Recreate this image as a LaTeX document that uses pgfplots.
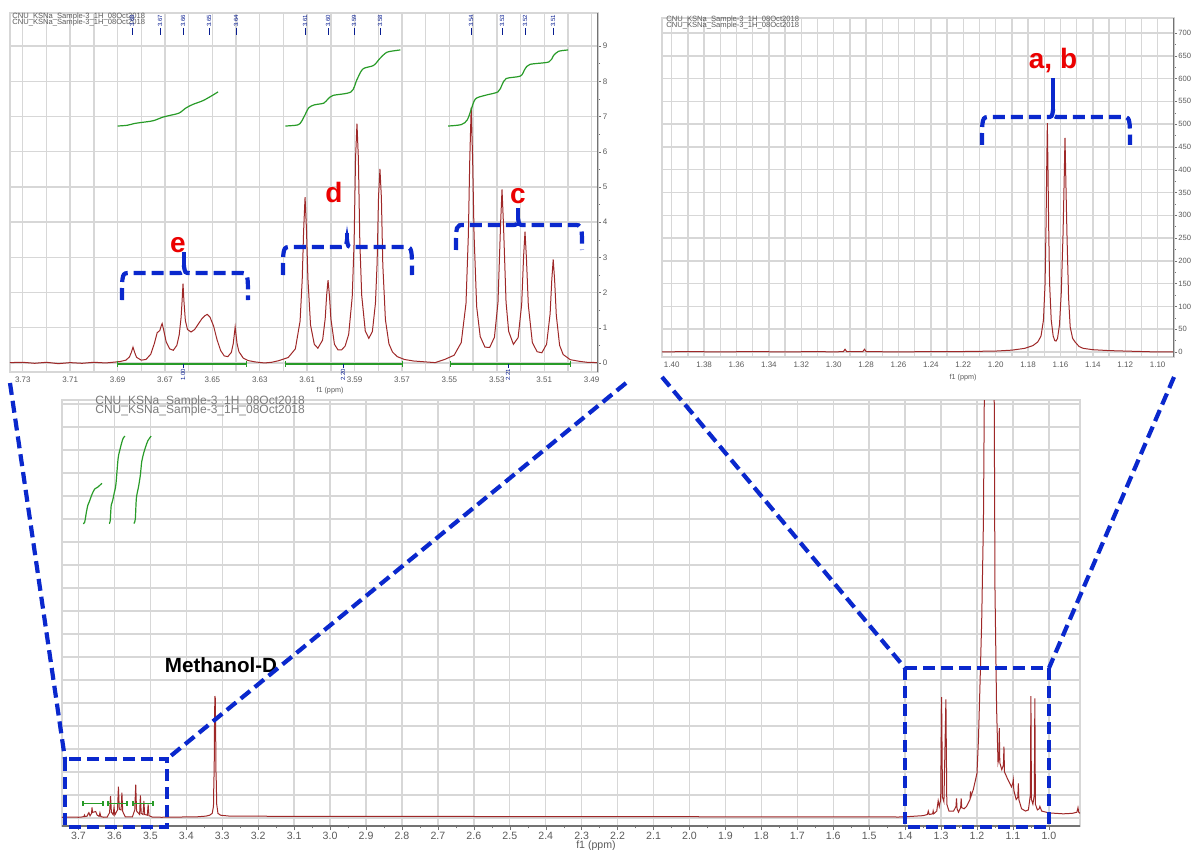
\documentclass[border=0pt]{standalone}
\usepackage{pgfplots}
\pgfplotsset{compat=1.18}
\usepackage{fontspec}
\setmainfont{Liberation Sans}
\definecolor{spec}{RGB}{158,40,40}
\definecolor{bl}{RGB}{10,40,205}
\definecolor{integ}{RGB}{40,155,40}
\definecolor{redl}{RGB}{235,0,0}
\definecolor{gridc}{RGB}{215,215,215}
\definecolor{labc}{RGB}{90,90,90}
\definecolor{axd}{RGB}{115,115,115}
\tikzset{dsh/.style={bl, line width=2.1pt, dash pattern=on 6pt off 3pt}}
\newcommand{\brk}[6]{%
 \draw[dsh] (#1,#5) .. controls (#1,#4) .. (#1+8,#4) -- (#2-6,#4) .. controls (#2-1,#4) .. (#2,#4-7) .. controls (#2+1,#4) .. (#2+6,#4) -- (#3-8,#4) .. controls (#3,#4) .. (#3,#5);
 \draw[bl, line width=2.2pt] (#2,#4-6) -- (#2,#6);}
\pgfplotsset{nmr/.style={scale only axis, x dir=reverse,
  /pgf/number format/assume math mode=true,
  axis line style={gridc, line width=0.6pt},
  grid style={gridc, line width=0.7pt}, minor grid style={gridc, line width=0.7pt},
  xmajorgrids=true, ymajorgrids=true,
  tick label style={text=labc}, tick style={axd}, tick align=outside,
  clip=true}}
\begin{document}
\begin{tikzpicture}
\path[use as bounding box] (0,0) rectangle (596.5pt,-425pt);

% ---------- top-left inset ----------
\begin{axis}[nmr, at={(5pt,-6.5pt)}, anchor=north west, width=294pt, height=179.5pt,
  xmin=3.4873, xmax=3.7354, ymin=-0.256, ymax=9.94,
  xtick={3.49,3.51,3.53,3.55,3.57,3.59,3.61,3.63,3.65,3.67,3.69,3.71,3.73},
  minor xtick={3.50,3.52,3.54,3.56,3.58,3.60,3.62,3.64,3.66,3.68,3.70,3.72},
  xminorgrids=true, x tick style={draw=none},
  xticklabel style={font=\fontsize{4}{4}\selectfont, inner sep=0.8pt, /pgf/number format/fixed, /pgf/number format/precision=2, /pgf/number format/fixed zerofill},
  ytick={0,1,2,3,4,5,6,7,8,9}, minor y tick num=1, ytick pos=right, yticklabel pos=right,
  yticklabel style={font=\fontsize{4}{4}\selectfont, inner sep=0.6pt},
  major tick length=1.6pt, minor tick length=1pt]
\addplot[spec, line width=0.5pt] coordinates {
(3.7354,0.01)(3.730,0.02)(3.725,-0.01)(3.720,0.02)(3.715,-0.02)(3.710,0.01)(3.705,-0.01)(3.700,0.02)(3.695,0.0)(3.692,0.02)
(3.689,0.04)(3.6865,0.08)(3.685,0.17)(3.6842,0.3)(3.6835,0.45)(3.6828,0.3)(3.682,0.16)(3.680,0.08)(3.678,0.1)(3.676,0.25)(3.6745,0.55)(3.6733,0.86)(3.6722,0.92)(3.6716,1.05)(3.6712,1.12)(3.6706,0.95)(3.6695,0.6)(3.668,0.4)(3.6665,0.36)(3.665,0.5)(3.664,0.8)(3.6632,1.3)(3.6628,1.75)(3.6624,2.25)(3.662,1.75)(3.6614,1.2)(3.6605,0.95)(3.659,0.88)(3.6575,0.95)(3.656,1.1)(3.6545,1.25)(3.6532,1.34)(3.6522,1.38)(3.651,1.3)(3.6495,1.05)(3.648,0.65)(3.6465,0.35)(3.645,0.2)(3.6435,0.18)(3.642,0.3)(3.6412,0.55)(3.6404,1.02)(3.6396,0.55)(3.6388,0.32)(3.637,0.14)(3.635,0.07)(3.632,0.03)(3.628,0.0)(3.625,0.02)
(3.622,0.065)(3.618,0.156)(3.615,0.40)(3.613,1.19)(3.6121,2.37)(3.6115,3.77)(3.6109,4.71)(3.6103,3.78)(3.6097,2.4)(3.6086,1.08)(3.607,0.53)(3.6055,0.42)(3.6035,0.65)(3.6024,1.26)(3.6018,1.92)(3.6012,2.35)(3.6006,1.9)(3.600,1.25)(3.5985,0.53)(3.597,0.37)(3.5955,0.37)(3.594,0.48)(3.5925,0.81)(3.591,1.88)(3.5902,3.45)(3.5896,5.81)(3.589,6.8)(3.5884,5.8)(3.5878,3.45)(3.587,1.92)(3.5855,0.91)(3.584,0.7)(3.5825,0.89)(3.5812,1.7)(3.5805,2.84)(3.5799,4.72)(3.5793,5.51)(3.5787,4.7)(3.5781,2.79)(3.577,1.23)(3.5755,0.54)(3.574,0.31)(3.572,0.18)(3.569,0.1)(3.565,0.055)(3.560,0.03)(3.556,0.01)
(3.552,0.10)(3.548,0.22)(3.545,0.58)(3.543,1.69)(3.542,3.64)(3.5414,5.8)(3.5408,7.25)(3.5402,5.8)(3.5396,3.65)(3.5385,1.6)(3.537,0.75)(3.535,0.45)(3.533,0.44)(3.531,0.73)(3.5295,1.72)(3.5284,3.96)(3.5278,4.93)(3.5272,3.96)(3.5261,1.73)(3.525,0.90)(3.523,0.53)(3.521,0.72)(3.5195,1.67)(3.5187,3.02)(3.5181,3.73)(3.5175,2.98)(3.5167,1.64)(3.515,0.58)(3.513,0.32)(3.511,0.29)(3.509,0.53)(3.5075,1.4)(3.5068,2.36)(3.5062,2.94)(3.5056,2.35)(3.5049,1.36)(3.5035,0.5)(3.502,0.24)(3.499,0.093)(3.495,0.045)(3.492,0.02)(3.4873,0.01)};
% integration curves
\addplot[integ, line width=0.6pt, smooth] coordinates {(3.690,6.73)(3.686,6.75)(3.683,6.80)(3.680,6.83)(3.675,6.88)(3.671,6.98)(3.668,7.03)(3.664,7.10)(3.661,7.25)(3.658,7.35)(3.654,7.45)(3.650,7.60)(3.6476,7.70)};
\addplot[integ, line width=0.6pt, smooth] coordinates {(3.6192,6.73)(3.614,6.76)(3.6125,6.85)(3.6109,7.05)(3.6093,7.25)(3.607,7.33)(3.603,7.38)(3.6012,7.5)(3.599,7.6)(3.5915,7.7)(3.589,8.05)(3.5865,8.35)(3.582,8.45)(3.5793,8.65)(3.5765,8.82)(3.573,8.87)(3.5707,8.89)};
\addplot[integ, line width=0.6pt, smooth] coordinates {(3.5505,6.73)(3.545,6.77)(3.5425,6.9)(3.5408,7.2)(3.539,7.5)(3.535,7.6)(3.5295,7.7)(3.5278,7.9)(3.526,8.08)(3.520,8.15)(3.5181,8.35)(3.516,8.48)(3.508,8.55)(3.5062,8.72)(3.504,8.85)(3.4999,8.89)};
\addplot[integ, line width=1pt, mark=|, mark size=1.3pt, mark options={solid, line width=0.6pt}] coordinates {(3.6899,-0.03)(3.6357,-0.03)};
\addplot[integ, line width=1pt, mark=|, mark size=1.3pt, mark options={solid, line width=0.6pt}] coordinates {(3.6192,-0.03)(3.5699,-0.03)};
\addplot[integ, line width=1pt, mark=|, mark size=1.3pt, mark options={solid, line width=0.6pt}] coordinates {(3.5496,-0.03)(3.4990,-0.03)};
\draw[axd, line width=0.9pt] (rel axis cs:1,0) -- (rel axis cs:1,1);
\end{axis}

% ---------- top-right inset ----------
\begin{axis}[nmr, at={(331pt,-9pt)}, anchor=north west, width=256pt, height=169.5pt,
  xmin=1.0899, xmax=1.406, ymin=-11, ymax=733,
  xtick={1.10,1.12,1.14,1.16,1.18,1.20,1.22,1.24,1.26,1.28,1.30,1.32,1.34,1.36,1.38,1.40},
  minor xtick={1.09,1.11,1.13,1.15,1.17,1.19,1.21,1.23,1.25,1.27,1.29,1.31,1.33,1.35,1.37,1.39},
  xminorgrids=true, x tick style={draw=none},
  xticklabel style={font=\fontsize{4}{4}\selectfont, inner sep=0.8pt, /pgf/number format/fixed, /pgf/number format/precision=2, /pgf/number format/fixed zerofill},
  ytick={0,50,100,150,200,250,300,350,400,450,500,550,600,650,700}, minor y tick num=1, ytick pos=right, yticklabel pos=right,
  yticklabel style={font=\fontsize{3.8}{4}\selectfont, inner sep=0.5pt},
  major tick length=1.5pt, minor tick length=0.9pt]
\addplot[spec, line width=0.5pt] coordinates {
(1.406,0)(1.390,1)(1.370,0)(1.350,1)(1.330,0)(1.310,1)(1.300,0)(1.294,1)(1.293,6)(1.292,1)(1.282,1)(1.281,6)(1.280,1)(1.260,0)(1.240,1)(1.220,1)
(1.200,2)(1.190,4)(1.182,8)(1.177,14)(1.174,22)(1.172,35)(1.1705,70)(1.1695,150)(1.1689,280)(1.1685,400)(1.1681,502)(1.1677,400)(1.1673,280)(1.1667,150)(1.1657,70)(1.1645,35)(1.1635,25)(1.1627,24)(1.1618,30)(1.1606,60)(1.1595,130)(1.1584,260)(1.1577,380)(1.1572,470)(1.1567,380)(1.1560,260)(1.1550,120)(1.1540,55)(1.1525,30)(1.1510,22)(1.1500,18)(1.1485,12)(1.146,8)(1.140,5)(1.130,3)(1.120,2)(1.110,1)(1.100,0)(1.0899,0)};
\draw[axd, line width=0.9pt] (rel axis cs:1,0) -- (rel axis cs:1,1);
\end{axis}

% ---------- main spectrum ----------
\begin{axis}[nmr, at={(31pt,-200pt)}, anchor=north west, width=509pt, height=213pt,
  xmin=0.9134, xmax=3.746, ymin=-0.35, ymax=18.17,
  xtick={1.0,1.1,1.2,1.3,1.4,1.5,1.6,1.7,1.8,1.9,2.0,2.1,2.2,2.3,2.4,2.5,2.6,2.7,2.8,2.9,3.0,3.1,3.2,3.3,3.4,3.5,3.6,3.7},
  minor x tick num=1, xtick pos=left,
  xticklabel style={font=\fontsize{5.3}{5.3}\selectfont, inner sep=0.8pt, /pgf/number format/fixed, /pgf/number format/precision=1, /pgf/number format/fixed zerofill},
  ytick={0,1,2,3,4,5,6,7,8,9,10,11,12,13,14,15,16,17,18}, yticklabels={}, y tick style={draw=none},
  major tick length=2pt, minor tick length=1.2pt]
\addplot[spec, line width=0.5pt] coordinates {
(3.746,0.03)(3.72,0.04)(3.70,0.03)(3.692,0.04)(3.6848,0.06)(3.6835,0.12)(3.682,0.06)(3.676,0.08)(3.6733,0.18)(3.6712,0.23)(3.668,0.09)(3.6638,0.2)(3.6624,0.46)(3.661,0.24)(3.6522,0.28)(3.648,0.12)(3.6425,0.07)(3.6404,0.22)(3.638,0.06)(3.630,0.03)(3.620,0.04)(3.6135,0.24)(3.6109,0.95)(3.6085,0.25)(3.6035,0.14)(3.6012,0.47)(3.599,0.13)(3.5915,0.35)(3.589,1.36)(3.5865,0.38)(3.5815,0.35)(3.5793,1.1)(3.577,0.28)(3.570,0.05)(3.550,0.05)(3.5435,0.35)(3.5408,1.45)(3.5385,0.3)(3.530,0.15)(3.5278,0.98)(3.5255,0.2)(3.5205,0.15)(3.5181,0.74)(3.516,0.15)(3.5085,0.12)(3.5062,0.59)(3.504,0.1)(3.495,0.04)(3.470,0.03)(3.420,0.04)(3.370,0.05)(3.345,0.08)
(3.335,0.12)(3.328,0.2)(3.3245,0.5)(3.3235,1.5)(3.3225,2.1)(3.3215,4.3)(3.3205,5.3)(3.3195,5.2)(3.3185,4.0)(3.3175,2.0)(3.3165,1.5)(3.3155,0.6)(3.312,0.2)(3.305,0.12)(3.28,0.08)(3.10,0.07)(2.80,0.07)(2.50,0.06)(2.20,0.06)(1.90,0.05)(1.60,0.05)(1.45,0.05)
(1.420,0.04)(1.400,0.05)(1.380,0.07)(1.350,0.1)(1.338,0.15)(1.3355,0.3)(1.333,0.15)(1.3235,0.18)(1.322,0.3)(1.3205,0.18)(1.312,0.3)(1.308,0.75)(1.305,0.5)(1.301,0.8)(1.2985,5.25)(1.296,0.9)(1.292,0.7)(1.2865,5.15)(1.284,0.6)(1.278,0.3)(1.265,0.3)(1.2585,0.5)(1.257,0.85)(1.2555,0.4)(1.2515,0.25)(1.2455,0.45)(1.244,0.85)(1.2425,0.45)(1.236,0.4)(1.229,0.5)(1.2195,0.8)(1.218,1.15)(1.2165,0.95)(1.210,1.25)(1.205,1.6)(1.200,1.95)(1.196,3.4)(1.192,5.6)(1.187,8.5)(1.182,13)(1.178,22)(1.174,40)(1.171,70)(1.169,100)(1.166,60)(1.1635,55)(1.161,70)(1.158,100)(1.155,45)(1.152,18)(1.150,10)(1.1455,4.8)(1.1415,2.4)(1.139,2.6)(1.138,3.9)(1.1365,2.4)(1.131,2.1)(1.1265,2.3)(1.125,3.1)(1.1235,2.0)(1.115,1.7)(1.104,1.35)(1.1005,1.5)(1.099,1.65)(1.0975,1.2)(1.091,0.8)(1.0865,0.9)(1.085,1.5)(1.0835,0.8)(1.076,0.4)(1.065,0.3)(1.057,0.35)(1.0515,1.0)(1.050,5.3)(1.0485,0.8)(1.0445,0.6)(1.0405,1.0)(1.039,5.2)(1.0375,0.6)(1.032,0.35)(1.027,0.4)(1.025,0.5)(1.020,0.3)(1.010,0.26)(1.000,0.22)(0.980,0.2)(0.960,0.18)(0.935,0.2)(0.922,0.25)(0.919,0.45)(0.917,0.25)(0.9134,0.2)};
\addplot[integ, line width=0.6pt, smooth] coordinates {(3.6875,12.8)(3.683,12.85)(3.678,13.3)(3.674,13.6)(3.670,13.75)(3.663,14.05)(3.655,14.3)(3.645,14.4)(3.635,14.55)};
\addplot[integ, line width=0.6pt, smooth] coordinates {(3.615,12.8)(3.612,12.9)(3.609,13.6)(3.605,13.8)(3.601,14.1)(3.596,14.5)(3.590,15.6)(3.585,16.0)(3.580,16.3)(3.576,16.5)(3.571,16.6)};
\addplot[integ, line width=0.6pt, smooth] coordinates {(3.546,12.8)(3.542,13.0)(3.539,13.9)(3.533,14.4)(3.528,14.9)(3.524,15.5)(3.518,15.9)(3.514,16.1)(3.507,16.4)(3.498,16.6)};
\addplot[integ, line width=0.8pt, mark=|, mark size=1.2pt, mark options={solid}] coordinates {(3.687,0.62)(3.632,0.62)};
\addplot[integ, line width=0.8pt, mark=|, mark size=1.2pt, mark options={solid}] coordinates {(3.618,0.62)(3.565,0.62)};
\addplot[integ, line width=0.8pt, mark=|, mark size=1.2pt, mark options={solid}] coordinates {(3.548,0.62)(3.492,0.62)};
\draw[axd, line width=0.9pt] (rel axis cs:0,0) -- (rel axis cs:1,0);
\end{axis}

% ---------- annotations (pixel coordinates) ----------
\begin{scope}[x=0.5pt,y=-0.5pt]
\node[anchor=west, font=\fontsize{3.8}{4}\selectfont, text=labc, inner sep=0] at (12,17) {CNU\_KSNa\_Sample-3\_1H\_08Oct2018};
\node[anchor=west, font=\fontsize{3.8}{4}\selectfont, text=labc, inner sep=0] at (12,23) {CNU\_KSNa\_Sample-3\_1H\_08Oct2018};
\node[anchor=west, font=\fontsize{3.8}{4}\selectfont, text=labc, inner sep=0] at (666,20) {CNU\_KSNa\_Sample-3\_1H\_08Oct2018};
\node[anchor=west, font=\fontsize{3.8}{4}\selectfont, text=labc, inner sep=0] at (666,26) {CNU\_KSNa\_Sample-3\_1H\_08Oct2018};
\node[anchor=west, font=\fontsize{6}{6}\selectfont, text=labc!80, inner sep=0] at (95,401) {CNU\_KSNa\_Sample-3\_1H\_08Oct2018};
\node[anchor=west, font=\fontsize{6}{6}\selectfont, text=labc!80, inner sep=0] at (95,410) {CNU\_KSNa\_Sample-3\_1H\_08Oct2018};
\foreach \px/\lab in {132/3.68,160/3.67,183/3.66,209/3.65,236/3.64,305/3.61,328/3.60,354/3.59,380/3.58,471/3.54,502/3.53,525/3.52,553/3.51}{
  \node[rotate=90, font=\fontsize{3}{3}\selectfont, text=bl!70!black, inner sep=0] at (\px,21) {\lab};
  \draw[bl!70!black, line width=0.4pt] (\px,28) -- (\px,35);}
\foreach \px/\lab in {183/1.00,343/2.20,508/2.21}{
  \draw[bl!70!black, line width=0.4pt] (\px,364) -- (\px,368);
  \node[rotate=90, font=\fontsize{3}{3}\selectfont, text=bl!70!black, inner sep=0] at (\px,375) {\lab};}
\node[font=\fontsize{3.6}{4}\selectfont, text=labc, inner sep=0] at (330,391) {f1 (ppm)};
\node[font=\fontsize{3.6}{4}\selectfont, text=labc, inner sep=0] at (963,378) {f1 (ppm)};
\node[font=\fontsize{5.3}{6}\selectfont, text=labc, inner sep=0] at (596,846) {f1 (ppm)};
% brackets
\brk{122}{184}{248}{273}{300}{252}
\brk{283}{347}{412}{247}{275}{233}
\brk{456}{518}{582}{225}{250}{208}
\brk{982}{1053}{1130}{117}{145}{78}
\node[text=redl, font=\bfseries\fontsize{14}{14}\selectfont] at (178,245) {e};
\node[text=redl, font=\bfseries\fontsize{14}{14}\selectfont] at (334,192) {d};
\node[text=redl, font=\bfseries\fontsize{14}{14}\selectfont] at (518,196) {c};
\node[text=redl, font=\bfseries\fontsize{14}{14}\selectfont] at (1053,61) {a, b};
\node[font=\bfseries\fontsize{10.3}{12}\selectfont] at (221,665) {Methanol-D};
% zoom boxes
\draw[dsh] (10,383) -- (65,759);
\draw[dsh] (626,383) -- (167,759);
\draw[dsh] (65,759) rectangle (167,827);
\draw[dsh] (662,377) -- (905,668);
\draw[dsh] (1174,377) -- (1049,668);
\draw[dsh] (905,668) rectangle (1049,827);
\end{scope}
\end{tikzpicture}
\end{document}
